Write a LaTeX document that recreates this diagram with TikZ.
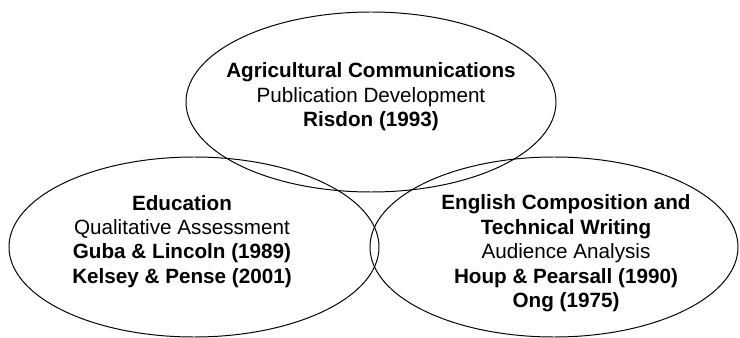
\documentclass[tikz,border=0pt]{standalone}
\usepackage{fontspec}
\setmainfont{Liberation Sans}
\usetikzlibrary{calc}
\usetikzlibrary{positioning}

\tikzset{
    field/.style={line width=0.7pt},
    venntext/.style={align=center, inner sep=0pt, font=\fontsize{14.7}{17.4}\selectfont}
}

\begin{document}
\begin{tikzpicture}
    \useasboundingbox (0,0) rectangle (18.5,8.425);

    \coordinate (agri) at (9.275,5.875);
    \coordinate (edu) at (4.85,2.25);
    \coordinate (eng) at (13.85,2.25);

    % the three fields
    \draw[field] (agri) ellipse (4.625 and 2.25);
    \draw[field] (edu) ellipse (4.625 and 2.25);
    \draw[field] (eng) ellipse (4.6 and 2.25);

    \node[venntext] (agritext) at ($(agri)+(0,0.125)$)
        {\textbf{Agricultural Communications}\\ Publication Development\\ \textbf{Risdon (1993)}};
    \node[venntext] (edutext) at ($(edu)+(-0.3,0.14)$)
        {\textbf{Education}\\ Qualitative Assessment\\ \textbf{Guba \& Lincoln (1989)}\\ \textbf{Kelsey \& Pense (2001)}};
    \node[venntext] (engtext) at ($(eng)+(0.3,-0.16)$)
        {\textbf{English Composition and}\\ \textbf{Technical Writing}\\ Audience Analysis\\ \textbf{Houp \& Pearsall (1990)}\\ \textbf{Ong (1975)}};
\end{tikzpicture}
\end{document}
